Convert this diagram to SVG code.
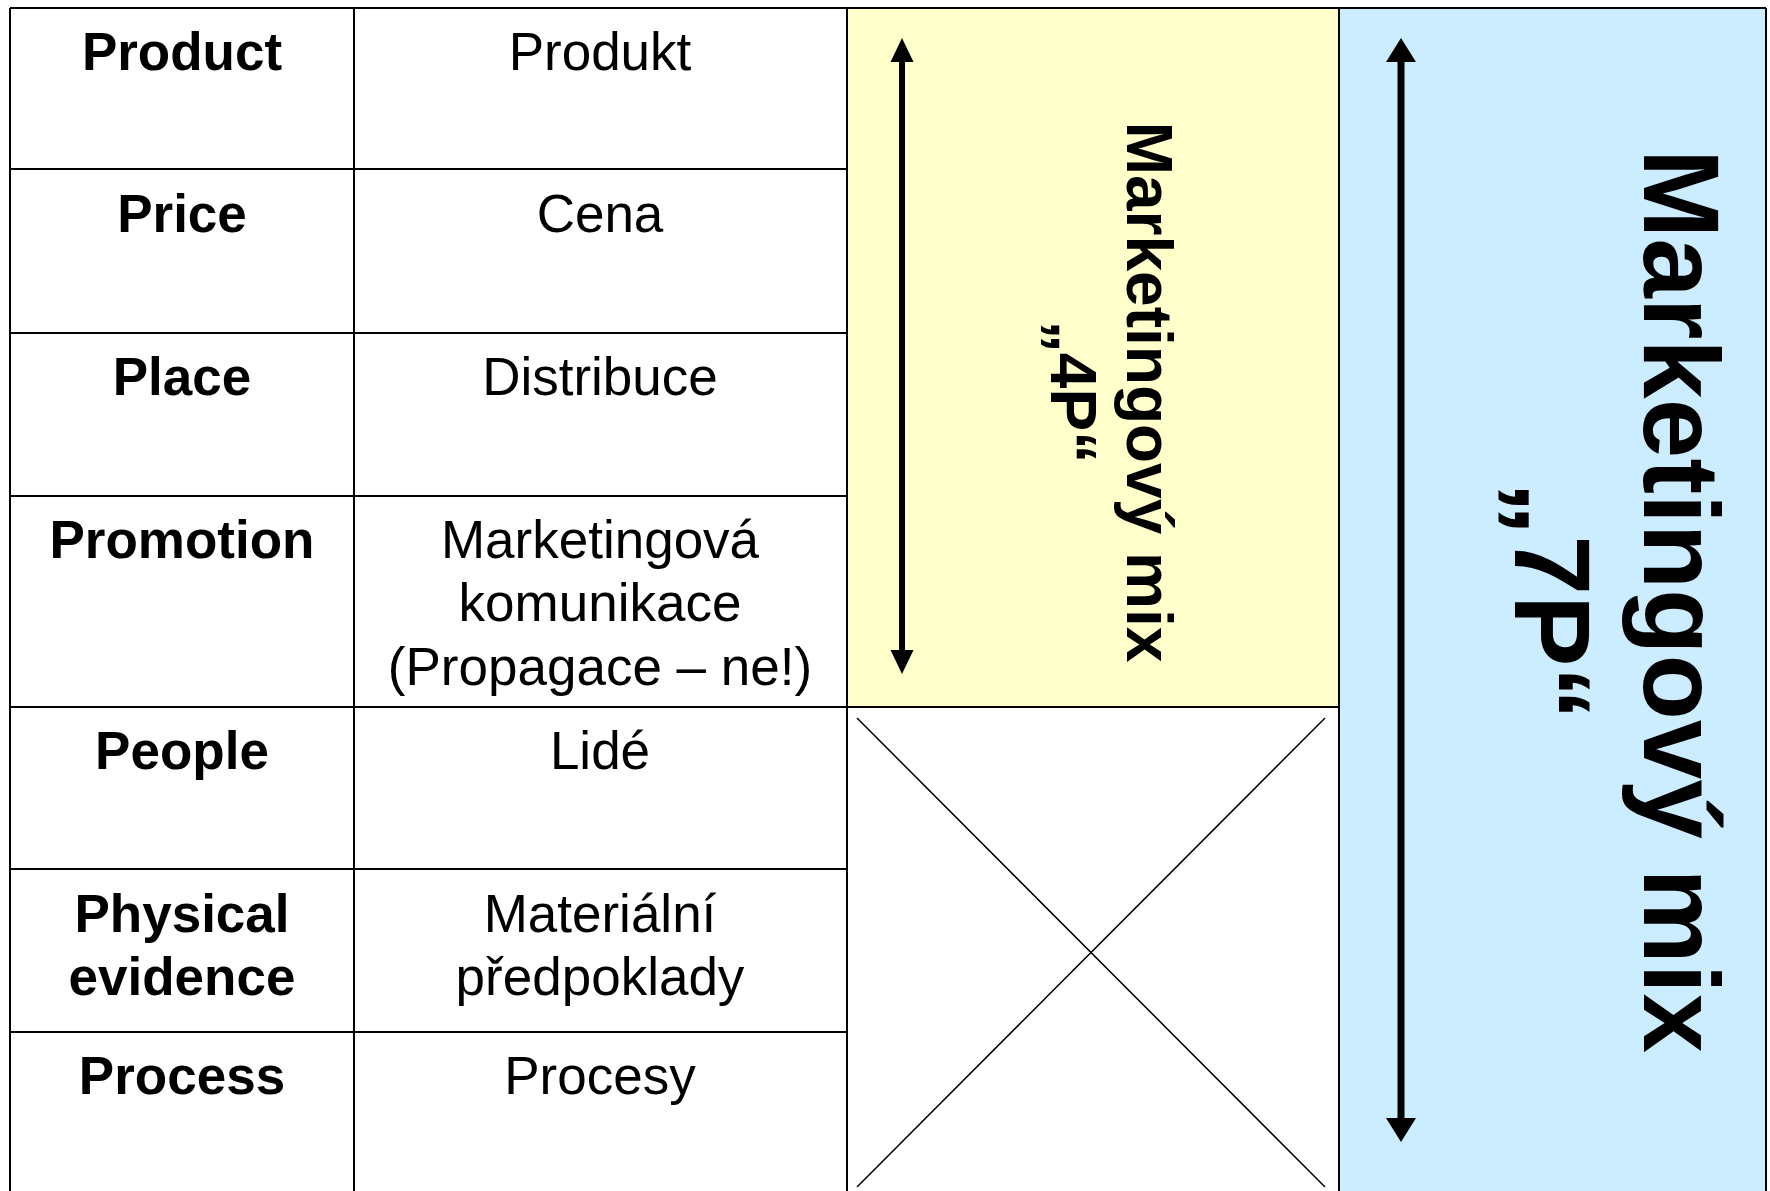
<svg xmlns="http://www.w3.org/2000/svg" width="1770" height="1191" viewBox="0 0 1770 1191">
  <style>
    .grid { stroke: #000; stroke-width: 2; fill: none; }
    .thin { stroke: #000; stroke-width: 1.5; fill: none; }
    .en { font-family: "Liberation Sans", Arial, sans-serif; font-size: 53px; font-weight: bold; text-anchor: middle; fill: #000; }
    .cz { font-family: "Liberation Sans", Arial, sans-serif; font-size: 53px; text-anchor: middle; fill: #000; }
    .mix4 { font-family: "Liberation Sans", Arial, sans-serif; font-size: 64px; font-weight: bold; text-anchor: middle; fill: #000; }
    .mix7 { font-family: "Liberation Sans", Arial, sans-serif; font-size: 107px; font-weight: bold; text-anchor: middle; fill: #000; }
    .arrow4 { stroke: #000; stroke-width: 6; fill: none; }
    .arrow7 { stroke: #000; stroke-width: 7; fill: none; }
  </style>
  <defs>
    <marker id="head4" markerUnits="userSpaceOnUse" markerWidth="26" markerHeight="26" refX="0" refY="12" orient="auto-start-reverse" viewBox="0 0 26 24">
      <path d="M0,0.5 L24,12 L0,23.5 Z" fill="#000"/>
    </marker>
    <marker id="head7" markerUnits="userSpaceOnUse" markerWidth="26" markerHeight="32" refX="0" refY="15" orient="auto-start-reverse" viewBox="0 0 26 30">
      <path d="M0,0 L24,15 L0,30 Z" fill="#000"/>
    </marker>
  </defs>

  <rect width="1770" height="1191" fill="#fff"/>

  <!-- 4P block (yellow) -->
  <g id="mix-4p">
    <rect x="847" y="8" width="492" height="699" fill="#FFFFCC"/>
    <g transform="translate(1127,392) rotate(90)">
      <text class="mix4" x="0" y="0">Marketingový mix</text>
      <text class="mix4" x="0" y="76">„4P“</text>
    </g>
  </g>

  <!-- 7P block (blue) -->
  <g id="mix-7p">
    <rect x="1339" y="8" width="427" height="1190" fill="#CCECFF"/>
    <g transform="translate(1644,601) rotate(90)">
      <text class="mix7" x="0" y="0">Marketingový mix</text>
      <text class="mix7" x="0" y="129">„7P“</text>
    </g>
  </g>

  <!-- empty cell crossed out -->
  <g id="empty-cell">
    <line class="thin" x1="857" y1="718" x2="1325" y2="1187"/>
    <line class="thin" x1="1325" y1="718" x2="857" y2="1187"/>
  </g>

  <!-- table grid -->
  <g id="grid">
    <line class="grid" x1="10" y1="8" x2="1766" y2="8"/>
    <line class="grid" x1="10" y1="8" x2="10" y2="1191"/>
    <line class="grid" x1="354" y1="8" x2="354" y2="1191"/>
    <line class="grid" x1="847" y1="8" x2="847" y2="1191"/>
    <line class="grid" x1="1339" y1="8" x2="1339" y2="1191"/>
    <line class="grid" x1="1766" y1="8" x2="1766" y2="1191"/>
    <line class="grid" x1="10" y1="169" x2="847" y2="169"/>
    <line class="grid" x1="10" y1="333" x2="847" y2="333"/>
    <line class="grid" x1="10" y1="496" x2="847" y2="496"/>
    <line class="grid" x1="10" y1="707" x2="1339" y2="707"/>
    <line class="grid" x1="10" y1="869" x2="847" y2="869"/>
    <line class="grid" x1="10" y1="1032" x2="847" y2="1032"/>
  </g>

  <!-- rows: English term and Czech equivalent -->
  <g id="row-product">
    <text class="en" x="182" y="70">Product</text>
    <text class="cz" x="600" y="70">Produkt</text>
  </g>
  <g id="row-price">
    <text class="en" x="182" y="232">Price</text>
    <text class="cz" x="600" y="232">Cena</text>
  </g>
  <g id="row-place">
    <text class="en" x="182" y="395">Place</text>
    <text class="cz" x="600" y="395">Distribuce</text>
  </g>
  <g id="row-promotion">
    <text class="en" x="182" y="558">Promotion</text>
    <text class="cz" x="600" y="558">Marketingová</text>
    <text class="cz" x="600" y="621">komunikace</text>
    <text class="cz" x="600" y="685">(Propagace – ne!)</text>
  </g>
  <g id="row-people">
    <text class="en" x="182" y="769">People</text>
    <text class="cz" x="600" y="769">Lidé</text>
  </g>
  <g id="row-physical-evidence">
    <text class="en" x="182" y="932">Physical</text>
    <text class="en" x="182" y="995">evidence</text>
    <text class="cz" x="600" y="932">Materiální</text>
    <text class="cz" x="600" y="995">předpoklady</text>
  </g>
  <g id="row-process">
    <text class="en" x="182" y="1094">Process</text>
    <text class="cz" x="600" y="1094">Procesy</text>
  </g>

  <!-- span arrows -->
  <g id="connectors">
    <path class="arrow4" d="M902,62 L902,650" marker-start="url(#head4)" marker-end="url(#head4)"/>
    <path class="arrow7" d="M1401,62 L1401,1118" marker-start="url(#head7)" marker-end="url(#head7)"/>
  </g>
</svg>
